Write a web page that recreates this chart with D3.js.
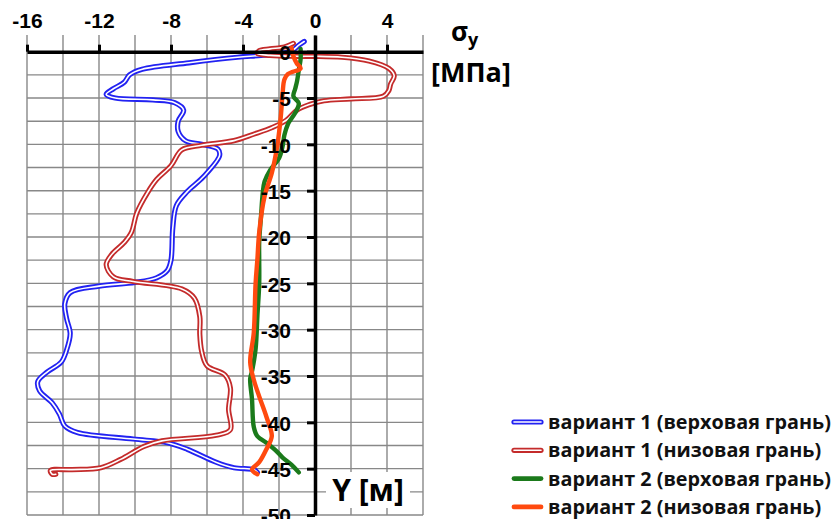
<!DOCTYPE html>
<html>
<head>
<meta charset="utf-8">
<script src="https://cdn.jsdelivr.net/npm/d3@7"></script>
<style>
  body { margin: 0; background: #fff; }
  svg { display: block; font-family: "Open Sans", "DejaVu Sans", sans-serif; font-weight: bold; }
</style>
</head>
<body>
<div id="plot"></div>
<script>
// Stress sigma_y [MPa] (x) vs depth Y [m] (y)
const xTicks = [-16, -12, -8, -4, 0, 4];
const yTicks = [0, -5, -10, -15, -20, -25, -30, -35, -40, -45, -50];

const seriesNames = [
    "вариант 1 (верховая грань)",
    "вариант 1 (низовая грань)",
    "вариант 2 (верховая грань)",
    "вариант 2 (низовая грань)"
];

const v1Upper = [
    [-0.6, 1.1], [-0.9, 0.7], [-1.2, 0.2], [-1.6, -0.1], [-3, -0.4], [-4.3, -0.6], [-7, -1.2],
    [-9.6, -1.9], [-10.3, -2.5], [-10.6, -3.3], [-11.2, -4.0], [-11.6, -4.6], [-11.1, -5.0],
    [-9, -5.2], [-7.8, -5.5], [-7.3, -6.3], [-7.6, -7.5], [-7.6, -8.6], [-7.2, -9.6],
    [-6.3, -10.0], [-5.4, -10.5], [-5.3, -11.2], [-6.2, -13.5], [-7.1, -15.1], [-7.7, -16.6],
    [-7.9, -19.0], [-8.0, -22.5], [-8.2, -23.6], [-8.8, -24.4], [-10, -24.9], [-12, -25.3],
    [-13.6, -26.0], [-13.9, -27.2], [-13.8, -28.8], [-13.6, -30.4], [-13.8, -32.2], [-14.1, -33.5],
    [-14.9, -34.6], [-15.4, -35.6], [-15.3, -36.6], [-14.6, -37.9], [-14.2, -39.1], [-13.9, -40.4],
    [-13.2, -41.1], [-10.1, -41.8], [-8.2, -42.2], [-7.1, -42.9], [-5.5, -44.3], [-4.5, -44.9],
    [-3.4, -45.1], [-3.2, -45.4]
];

const v1Lower = [
    [-1.2, 0.9], [-1.7, 0.5], [-2.5, 0.3], [-3.1, 0.1], [-3.2, -0.2], [-2.5, -0.4], [-1, -0.5],
    [0, -0.5], [1.5, -0.6], [3, -1.0], [4.1, -1.8], [4.4, -2.6], [4.2, -3.5], [4.1, -4.2],
    [3.8, -4.8], [2, -5.1], [0.5, -5.3], [-0.3, -5.7], [-1, -6.3], [-1.6, -7.4], [-2.4, -8.2],
    [-3.4, -8.9], [-4.5, -9.6], [-6.3, -10.1], [-7.4, -10.6], [-8.0, -12.3], [-8.8, -13.8],
    [-9.3, -15.2], [-9.9, -17.4], [-10.2, -19.5], [-10.6, -20.6], [-11.3, -21.9], [-11.6, -23],
    [-11.2, -24.3], [-10.1, -24.8], [-7.4, -25.6], [-6.7, -26.6], [-6.4, -28.6], [-6.4, -30.5],
    [-6.3, -32.3], [-6.0, -33.9], [-5.0, -34.9], [-4.7, -36.3], [-4.8, -38.6], [-4.7, -40.8],
    [-5.5, -41.4], [-8.5, -42.0], [-9.5, -42.6], [-10.8, -44.0], [-11.9, -44.9], [-13.5, -45.1],
    [-14.7, -45.2], [-14.6, -45.6], [-14.4, -45.6]
];

const v2Upper = [
    [-0.8, 0.3], [-0.8, -0.8], [-0.9, -2.0], [-1.0, -3.2], [-1.1, -4.0], [-1.2, -4.8],
    [-0.9, -5.6], [-1.1, -6.6], [-1.5, -7.8], [-1.7, -9.0], [-1.8, -10.2], [-2.0, -11.5],
    [-2.5, -12.8], [-2.8, -14.0], [-2.9, -15.2], [-3.0, -17.8], [-3.1, -20.5], [-3.1, -22.4],
    [-3.1, -25.0], [-3.2, -28.5], [-3.3, -32.1], [-3.5, -34.5], [-3.6, -35.3], [-3.5, -37.5],
    [-3.4, -40.5], [-3.2, -41.5], [-2.7, -42.2], [-2.2, -43.0], [-1.8, -43.8], [-1.3, -44.6],
    [-0.9, -45.4]
];

const v2Lower = [
    [-1.3, 0.4], [-1.2, -0.5], [-1.0, -1.3], [-0.8, -1.8], [-1.5, -2.4], [-1.7, -3.0],
    [-1.8, -4.5], [-1.9, -7.0], [-2.1, -10.2], [-2.4, -13.1], [-2.8, -15.6], [-3.1, -19.5],
    [-3.2, -22.4], [-3.3, -25.0], [-3.4, -30.3], [-3.6, -33.5], [-3.4, -35.4], [-3.1, -37.2],
    [-2.7, -39.4], [-2.4, -41.5], [-2.7, -42.9], [-3.1, -44.3], [-3.5, -45.1], [-3.2, -45.6]
];

const seriesData = [v1Upper, v1Lower, v2Upper, v2Lower];
const seriesColors = ["#2222f2", "#c42b2b", "#1b7a1b", "#ff4a0f"];
const doubleLine = [true, true, false, false];

const width = 837, height = 519;

const svg = d3.select("#plot")
    .append("svg")
    .attr("width", width)
    .attr("height", height);

// Scales: plot box spans x -16..6 and y 1.8..-50
const x = d3.scaleLinear().domain([-16, 6]).range([27, 423]);
const y = d3.scaleLinear().domain([1.8, -50]).range([35, 515]);

// Grid
const grid = svg.append("g");
grid.selectAll("line.v")
    .data(d3.range(-16, 6.1, 2))
    .enter()
    .append("line")
    .attr("x1", d => x(d)).attr("x2", d => x(d))
    .attr("y1", y(1.8)).attr("y2", y(-50))
    .attr("stroke", "#888")
    .attr("stroke-width", 1.4);
grid.selectAll("line.h")
    .data(d3.range(0, -50.1, -2.5))
    .enter()
    .append("line")
    .attr("x1", x(-16)).attr("x2", x(6))
    .attr("y1", d => y(d)).attr("y2", d => y(d))
    .attr("stroke", "#888")
    .attr("stroke-width", 1.4);

// Series lines (smoothed like the original)
const line = d3.line()
    .x(d => x(d[0]))
    .y(d => y(d[1]))
    .curve(d3.curveCatmullRom.alpha(0.5));

seriesData.forEach((data, i) => {
    svg.append("path")
        .datum(data)
        .attr("fill", "none")
        .attr("stroke", seriesColors[i])
        .attr("stroke-width", doubleLine[i] ? 5.2 : 4.4)
        .attr("stroke-linejoin", "round")
        .attr("stroke-linecap", "round")
        .attr("d", line);
    if (doubleLine[i]) {
        svg.append("path")
            .datum(data)
            .attr("fill", "none")
            .attr("stroke", "#ffffff")
            .attr("stroke-width", 1.6)
            .attr("stroke-linejoin", "round")
            .attr("stroke-linecap", "round")
            .attr("d", line);
    }
});

// X axis on top, crossing at y = 0
const xAxis = svg.append("g")
    .attr("transform", `translate(0,${y(0)})`)
    .call(d3.axisTop(x).tickValues(xTicks).tickSize(7).tickSizeOuter(0).tickPadding(17));
xAxis.select(".domain").attr("stroke-width", 3.5).attr("stroke", "#000");
xAxis.selectAll(".tick line").attr("stroke-width", 3).attr("stroke", "#000");
xAxis.selectAll("text")
    .style("font-size", "21px")
    .style("font-weight", "bold")
    .attr("fill", "#000")
    .text(d => d < 0 ? "-" + Math.abs(d) : d);

// Y axis at x = 0
const yAxis = svg.append("g")
    .attr("transform", `translate(${x(0)},0)`)
    .call(d3.axisLeft(y).tickValues(yTicks).tickSize(8).tickSizeOuter(0).tickPadding(16));
yAxis.select(".domain").attr("stroke-width", 3.5).attr("stroke", "#000");
yAxis.selectAll(".tick line").attr("stroke-width", 3).attr("stroke", "#000");
yAxis.selectAll("text")
    .style("font-size", "21px")
    .style("font-weight", "bold")
    .attr("fill", "#000")
    .attr("dy", "0.38em")
    .text(d => d < 0 ? "-" + Math.abs(d) : d);

// Axis titles
const sig = svg.append("text")
    .attr("x", 451)
    .attr("y", 41)
    .style("font-size", "26px")
    .style("font-weight", "bold");
sig.append("tspan").text("σ");
sig.append("tspan").attr("dy", 5).style("font-size", "18px").text("y");

svg.append("text")
    .attr("x", 471)
    .attr("y", 82)
    .attr("text-anchor", "middle")
    .style("font-size", "27px")
    .style("font-weight", "bold")
    .text("[МПа]");

svg.append("rect")
    .attr("x", 326).attr("y", 472)
    .attr("width", 84).attr("height", 36)
    .attr("fill", "#fff");
svg.append("text")
    .attr("x", 368)
    .attr("y", 501)
    .attr("text-anchor", "middle")
    .style("font-size", "30px")
    .style("font-weight", "bold")
    .text("Y [м]");

// Legend
const legend = svg.append("g");
seriesNames.forEach((name, i) => {
    const ly = 422 + i * 28.3;
    legend.append("line")
        .attr("x1", 514).attr("x2", 541)
        .attr("y1", ly).attr("y2", ly)
        .attr("stroke", seriesColors[i])
        .attr("stroke-width", doubleLine[i] ? 5.2 : 4.8)
        .attr("stroke-linecap", "round");
    if (doubleLine[i]) {
        legend.append("line")
            .attr("x1", 514).attr("x2", 541)
            .attr("y1", ly).attr("y2", ly)
            .attr("stroke", "#fff")
            .attr("stroke-width", 1.6)
            .attr("stroke-linecap", "round");
    }
    legend.append("text")
        .attr("x", 548)
        .attr("y", ly)
        .attr("dy", "0.35em")
        .style("font-size", "19.8px")
        .style("font-weight", "bold")
        .attr("fill", "#111")
        .text(name);
});
</script>
</body>
</html>
